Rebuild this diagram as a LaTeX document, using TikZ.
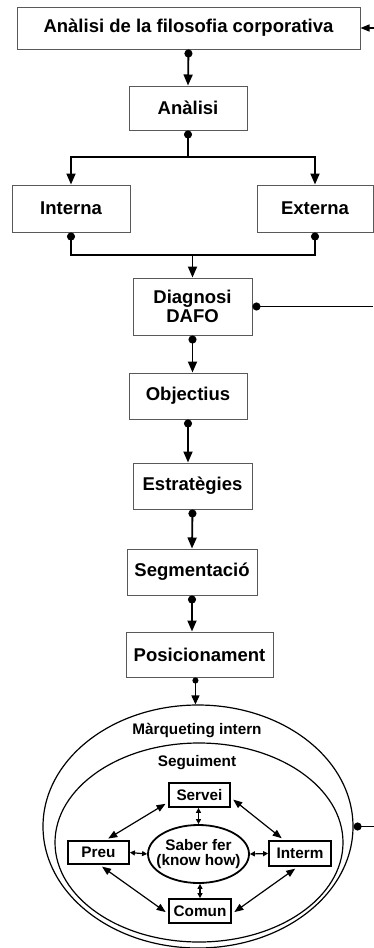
\documentclass[tikz,border=0pt]{standalone}
\usepackage{fontspec}
\setmainfont{Liberation Sans}
\usepackage{tikz}
\usetikzlibrary{arrows.meta}
\usetikzlibrary{shapes.geometric}
\newcommand{\widthflow}{118pt}
\newcommand{\heightflow}{46pt}
\newcommand{\widthinner}{61pt}
\newcommand{\heightinner}{24pt}
\newcommand{\bigfont}{\fontsize{18.5}{19.5}\selectfont\bfseries}
\newcommand{\smallfont}{\fontsize{15.3}{15}\selectfont\bfseries}
\tikzset{
    basebox/.style={draw, rectangle, inner sep=0pt, align=center},
    flow/.style={basebox, draw=black!65, line width=1pt, minimum width=\widthflow, minimum height=\heightflow, font=\bigfont},
    inner/.style={basebox, line width=1.8pt, minimum width=\widthinner, minimum height=\heightinner, font=\smallfont},
    ring/.style={draw, ellipse, inner sep=0pt, line width=1.2pt},
    ringtext/.style={inner sep=0pt, font=\smallfont},
    link/.style={line width=1.8pt},
    dotlink/.style={link, {Circle[length=8pt]}-},
    arrowlink/.style={link, -{Triangle[length=11pt,width=9pt]}},
    dotarrowlink/.style={link, {Circle[length=8pt]}-{Triangle[length=11pt,width=9pt]}},
    thinarrow/.style={line width=1.4pt, -{Triangle[length=9pt,width=7pt]}},
    thindotarrow/.style={line width=1.3pt, {Circle[length=6pt]}-{Triangle[length=9pt,width=8pt]}},
    twoway/.style={line width=1.2pt, shorten <=3pt, shorten >=3pt, {Triangle[length=9pt,width=7pt]}-{Triangle[length=9pt,width=7pt]}},
    twowayshort/.style={line width=1.2pt, {Triangle[length=5pt,width=5pt]}-{Triangle[length=5pt,width=5pt]}}
}

\begin{document}
\begin{tikzpicture}[x=1pt, y=-1pt]
    \useasboundingbox (0,0) rectangle (374,948);

    \node[flow, minimum width=343pt, minimum height=42pt] (Filo) at (188.5,28) {Anàlisi de la filosofia corporativa};
    \node[flow, minimum height=44pt] (Anal) at (188,108) {Anàlisi};
    \node[flow, minimum height=47pt] (Inter) at (71,208.5) {Interna};
    \node[flow, minimum width=116pt, minimum height=47pt] (Exter) at (315,208.5) {Externa};
    \node[flow, minimum width=119pt, minimum height=57pt] (Diag) at (192.5,306.5) {Diagnosi\\DAFO};
    \node[flow] (Objec) at (188,396) {Objectius};
    \node[flow, minimum width=119pt] (Estra) at (192.5,486) {Estratègies};
    \node[flow, minimum width=130pt] (Segme) at (192,572) {Segmentació};
    \node[flow, minimum width=147pt, minimum height=45pt] (Posic) at (199.5,654.5) {Posicionament};

    \node[ring, minimum width=310pt, minimum height=243pt] (Marq) at (198,826.5) {};
    \node[ring, minimum width=288pt, minimum height=199pt] (Segu) at (199,842.5) {};
    \node[ringtext] (MarqText) at (197,731) {Màrqueting intern};
    \node[ringtext] (SeguText) at (197,763) {Seguiment};

    \node[inner] (Serv) at (199.5,795) {Servei};
    \node[inner, minimum height=23pt] (Preu) at (98.5,852.5) {Preu};
    \node[inner, minimum width=62pt, minimum height=25pt] (Intm) at (300,853.5) {Interm};
    \node[inner, minimum width=62pt] (Comu) at (200,911) {Comun};
    \node[ring, line width=1.8pt, inner xsep=-8pt, minimum width=101pt, minimum height=58pt, align=center, font=\smallfont] (Saber) at (198.5,854) {Saber fer\\(know how)};

    \coordinate (split) at (188,157);
    \coordinate (join) at (192.5,255);
    \coordinate (fbFilo) at (374,28);
    \coordinate (fbDiag) at (373,306.5);
    \coordinate (fbMarq) at (374,826.5);

    \draw[dotarrowlink] (Filo.south) -- (Anal.north);
    \draw[dotarrowlink] (Anal.south) -- (split) -| (Inter.north);
    \draw[arrowlink] (split) -| (Exter.north);
    \draw[dotlink] (Inter.south) |- (join);
    \draw[dotlink] (Exter.south) |- (join);
    \draw[arrowlink] (join) -- (Diag.north);
    \draw[thinarrow] (fbFilo) -- (Filo.east);
    \draw[dotlink] (Diag.east) -- (fbDiag);
    \draw[dotarrowlink] (Diag.south) -- (Diag.south |- Objec.north);
    \draw[dotarrowlink] (Objec.south) -- (Objec.south |- Estra.north);
    \draw[dotarrowlink] (Estra.south) -- (Segme.north);
    \draw[dotarrowlink] (Segme.south) -- (Segme.south |- Posic.north);
    \draw[thindotarrow] (Posic.-100) -- (Posic.-100 |- Marq.north);
    \draw[dotlink] (Marq.east) -- (fbMarq);

    \draw[twoway] (Serv.193) -- (Preu.60);
    \draw[twoway] (Serv.-5) -- (Intm.140);
    \draw[twoway] (Preu.-85) -- (Comu.185);
    \draw[twoway] (Intm.-100) -- (Comu.-5);
    \draw[twowayshort] (Saber.north) -- (Saber.north |- Serv.south);
    \draw[twowayshort] (Comu.north |- Saber.south) -- (Comu.north);
    \draw[twowayshort] (Preu.east) -- (Saber.west);
    \draw[twowayshort] (Saber.east) -- (Intm.west);
\end{tikzpicture}
\end{document}
